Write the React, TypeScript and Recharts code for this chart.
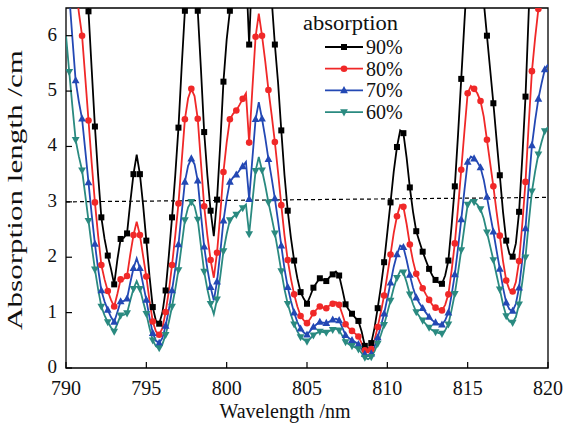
import React from 'react';
import { LineChart, Line, XAxis, YAxis, ReferenceLine, ReferenceArea, Legend } from 'recharts';

// wavelength grid (nm); markers are drawn on every second sample
const wavelength = [
  790.0, 790.2, 790.4, 790.6, 790.8, 791.0, 791.2, 791.4, 791.6, 791.8,
  792.0, 792.2, 792.4, 792.6, 792.8, 793.0, 793.2, 793.4, 793.6, 793.8,
  794.0, 794.2, 794.4, 794.6, 794.8, 795.0, 795.2, 795.4, 795.6, 795.8,
  796.0, 796.2, 796.4, 796.6, 796.8, 797.0, 797.2, 797.4, 797.6, 797.8,
  798.0, 798.2, 798.4, 798.6, 798.8, 799.0, 799.2, 799.4, 799.6, 799.8,
  800.0, 800.2, 800.4, 800.6, 800.8, 801.0, 801.2, 801.4, 801.6, 801.8,
  802.0, 802.2, 802.4, 802.6, 802.8, 803.0, 803.2, 803.4, 803.6, 803.8,
  804.0, 804.2, 804.4, 804.6, 804.8, 805.0, 805.2, 805.4, 805.6, 805.8,
  806.0, 806.2, 806.4, 806.6, 806.8, 807.0, 807.2, 807.4, 807.6, 807.8,
  808.0, 808.2, 808.4, 808.6, 808.8, 809.0, 809.2, 809.4, 809.6, 809.8,
  810.0, 810.2, 810.4, 810.6, 810.8, 811.0, 811.2, 811.4, 811.6, 811.8,
  812.0, 812.2, 812.4, 812.6, 812.8, 813.0, 813.2, 813.4, 813.6, 813.8,
  814.0, 814.2, 814.4, 814.6, 814.8, 815.0, 815.2, 815.4, 815.6, 815.8,
  816.0, 816.2, 816.4, 816.6, 816.8, 817.0, 817.2, 817.4, 817.6, 817.8,
  818.0, 818.2, 818.4, 818.6, 818.8, 819.0, 819.2, 819.4, 819.6, 819.8,
  820.0,
];

const abs90 = [
  14.7, 13.1, 11.56, 10.09, 9.36, 8.75, 7.64, 6.44, 5.39, 4.36,
  3.48, 2.72, 2.33, 2.03, 1.79, 1.51, 1.96, 2.33, 2.35, 2.43,
  2.99, 3.5, 3.85, 3.5, 2.94, 2.3, 1.65, 1.1, 0.85, 0.8,
  1.0, 1.4, 2.03, 2.72, 3.48, 4.34, 5.44, 6.45, 7.1, 7.35,
  7.15, 6.45, 5.39, 4.26, 3.48, 2.84, 2.38, 3.04, 4.04, 5.17,
  5.93, 6.45, 6.69, 6.79, 6.93, 7.08, 7.23, 5.84, 7.35, 8.72,
  9.33, 8.75, 8.09, 7.33, 6.66, 5.84, 5.15, 4.29, 3.48, 2.84,
  2.35, 1.94, 1.62, 1.37, 1.25, 1.16, 1.3, 1.45, 1.54, 1.62,
  1.59, 1.57, 1.64, 1.69, 1.74, 1.67, 1.42, 1.15, 1.05, 0.98,
  0.91, 0.85, 0.66, 0.4, 0.33, 0.45, 0.72, 1.08, 1.47, 1.91,
  2.45, 2.99, 3.55, 3.99, 4.29, 4.24, 3.8, 3.26, 2.82, 2.47,
  2.28, 2.1, 1.94, 1.79, 1.67, 1.59, 1.54, 1.52, 1.67, 1.94,
  2.57, 3.28, 4.21, 5.22, 6.25, 7.23, 7.42, 7.35, 7.23, 7.03,
  6.62, 6.0, 5.39, 4.78, 4.12, 3.48, 2.82, 2.3, 2.06, 2.01,
  2.25, 2.82, 3.8, 4.9, 6.42, 7.82, 8.7, 9.46, 10.0, 10.49,
  10.66,
];

const abs80 = [
  10.08, 8.99, 7.93, 6.92, 6.42, 6.0, 5.24, 4.47, 3.7, 2.99,
  2.39, 1.86, 1.6, 1.39, 1.23, 1.11, 1.34, 1.6, 1.61, 1.66,
  2.05, 2.4, 2.64, 2.4, 2.02, 1.65, 1.21, 0.84, 0.66, 0.6,
  0.72, 1.01, 1.39, 1.86, 2.39, 2.97, 3.73, 4.49, 4.87, 5.04,
  4.91, 4.5, 3.7, 2.92, 2.39, 1.95, 1.63, 2.08, 2.77, 3.54,
  4.07, 4.49, 4.59, 4.65, 4.75, 4.86, 4.96, 4.07, 5.04, 5.98,
  6.4, 6.0, 5.54, 5.02, 4.57, 4.08, 3.53, 2.94, 2.39, 1.95,
  1.61, 1.33, 1.11, 0.94, 0.86, 0.81, 0.89, 0.99, 1.06, 1.11,
  1.09, 1.08, 1.13, 1.16, 1.19, 1.14, 0.97, 0.79, 0.72, 0.67,
  0.62, 0.57, 0.45, 0.32, 0.28, 0.34, 0.5, 0.74, 1.01, 1.31,
  1.68, 2.05, 2.44, 2.74, 2.94, 2.91, 2.6, 2.23, 1.93, 1.7,
  1.56, 1.44, 1.33, 1.23, 1.14, 1.09, 1.06, 1.04, 1.14, 1.33,
  1.76, 2.25, 2.89, 3.58, 4.28, 4.96, 5.09, 5.04, 4.96, 4.82,
  4.54, 4.12, 3.7, 3.28, 2.82, 2.39, 1.93, 1.58, 1.41, 1.38,
  1.55, 1.93, 2.6, 3.36, 4.4, 5.36, 5.96, 6.48, 6.85, 7.19,
  7.31,
];

const abs70 = [
  7.56, 6.74, 5.95, 5.19, 4.81, 4.5, 3.93, 3.35, 2.77, 2.24,
  1.79, 1.4, 1.2, 1.05, 0.92, 0.83, 1.01, 1.2, 1.21, 1.25,
  1.54, 1.8, 1.98, 1.8, 1.51, 1.23, 0.91, 0.63, 0.49, 0.45,
  0.54, 0.76, 1.05, 1.4, 1.79, 2.23, 2.8, 3.36, 3.65, 3.78,
  3.68, 3.38, 2.77, 2.19, 1.79, 1.46, 1.22, 1.56, 2.08, 2.66,
  3.05, 3.36, 3.44, 3.49, 3.57, 3.64, 3.72, 3.05, 3.78, 4.49,
  4.8, 4.5, 4.16, 3.77, 3.43, 3.06, 2.65, 2.21, 1.79, 1.46,
  1.21, 1.0, 0.83, 0.71, 0.64, 0.6, 0.67, 0.74, 0.79, 0.83,
  0.82, 0.81, 0.84, 0.87, 0.89, 0.86, 0.73, 0.59, 0.54, 0.5,
  0.47, 0.43, 0.34, 0.25, 0.22, 0.26, 0.38, 0.55, 0.76, 0.98,
  1.26, 1.54, 1.83, 2.05, 2.21, 2.18, 1.95, 1.68, 1.45, 1.27,
  1.17, 1.08, 1.0, 0.92, 0.86, 0.82, 0.79, 0.78, 0.86, 1.0,
  1.32, 1.69, 2.17, 2.68, 3.21, 3.72, 3.82, 3.78, 3.72, 3.62,
  3.4, 3.09, 2.77, 2.46, 2.12, 1.79, 1.45, 1.18, 1.06, 1.03,
  1.16, 1.45, 1.95, 2.52, 3.3, 4.02, 4.47, 4.86, 5.14, 5.39,
  5.48,
];

const abs60 = [
  6.0, 5.35, 4.72, 4.12, 3.82, 3.57, 3.12, 2.66, 2.2, 1.78,
  1.42, 1.11, 0.95, 0.83, 0.73, 0.66, 0.8, 0.95, 0.96, 0.99,
  1.22, 1.43, 1.57, 1.43, 1.2, 0.98, 0.72, 0.5, 0.39, 0.36,
  0.43, 0.6, 0.83, 1.11, 1.42, 1.77, 2.22, 2.67, 2.9, 3.0,
  2.92, 2.68, 2.2, 1.74, 1.42, 1.16, 0.97, 1.24, 1.65, 2.11,
  2.42, 2.67, 2.73, 2.77, 2.83, 2.89, 2.95, 2.42, 3.0, 3.56,
  3.81, 3.57, 3.3, 2.99, 2.72, 2.43, 2.1, 1.75, 1.42, 1.16,
  0.96, 0.79, 0.66, 0.56, 0.51, 0.48, 0.53, 0.59, 0.63, 0.66,
  0.65, 0.64, 0.67, 0.69, 0.71, 0.68, 0.58, 0.47, 0.43, 0.4,
  0.37, 0.34, 0.27, 0.19, 0.16, 0.2, 0.3, 0.44, 0.6, 0.78,
  1.0, 1.22, 1.45, 1.63, 1.75, 1.73, 1.55, 1.33, 1.15, 1.01,
  0.93, 0.86, 0.79, 0.73, 0.68, 0.65, 0.63, 0.62, 0.68, 0.79,
  1.05, 1.34, 1.72, 2.13, 2.55, 2.95, 3.03, 3.0, 2.95, 2.87,
  2.7, 2.45, 2.2, 1.95, 1.68, 1.42, 1.15, 0.94, 0.84, 0.82,
  0.92, 1.15, 1.55, 2.0, 2.62, 3.19, 3.55, 3.86, 4.08, 4.28,
  4.35,
];

const xTicks = [790, 795, 800, 805, 810, 815, 820];
const yTicks = [0, 1, 2, 3, 4, 5, 6];

const data = wavelength.map((w, i) => ({
  w,
  a90: abs90[i],
  a80: abs80[i],
  a70: abs70[i],
  a60: abs60[i],
}));

const SERIF = 'Liberation Serif, Times New Roman, Times, DejaVu Serif, Noto Serif, serif';
const textStyle = { fontFamily: SERIF, fontSize: 20, fill: '#111' };

const series = [
  { key: 'a90', name: '90%', color: '#000000', shape: 'square' },
  { key: 'a80', name: '80%', color: '#f02828', shape: 'circle' },
  { key: 'a70', name: '70%', color: '#2348b4', shape: 'up' },
  { key: 'a60', name: '60%', color: '#2a8a80', shape: 'down' },
];

const Marker = ({ shape, cx, cy, color }: { shape: string; cx: number; cy: number; color: string }) => {
  if (shape === 'square') return <rect x={cx - 3} y={cy - 3} width={6} height={6} fill={color} />;
  if (shape === 'circle') return <circle cx={cx} cy={cy} r={3.3} fill={color} />;
  if (shape === 'up')
    return <polygon points={`${cx},${cy - 4.3} ${cx - 3.9},${cy + 2.8} ${cx + 3.9},${cy + 2.8}`} fill={color} />;
  return <polygon points={`${cx},${cy + 4.3} ${cx - 3.9},${cy - 2.8} ${cx + 3.9},${cy - 2.8}`} fill={color} />;
};

const makeDot = (shape: string, color: string) => (props: any) => {
  const { cx, cy, index } = props;
  if (index % 2 === 0 || cx == null || cy == null) return <g key={`d-${index}`} />;
  return (
    <g key={`d-${index}`}>
      <Marker shape={shape} cx={cx} cy={cy} color={color} />
    </g>
  );
};

const XTick = (props: any) => {
  const { x, y, payload } = props;
  return (
    <text x={x} y={y} dy={21} textAnchor="middle" fontFamily={SERIF} style={textStyle}>
      {payload.value}
    </text>
  );
};

const YTick = (props: any) => {
  const { x, y, payload } = props;
  return (
    <text x={x} y={y} dy={5} textAnchor="end" fontFamily={SERIF} style={{ ...textStyle, fontSize: 19 }}>
      {payload.value}
    </text>
  );
};

const renderLegend = () => (
  <svg width={140} height={120} style={{ overflow: 'visible' }}>
    <text x={3} y={22} fontFamily={SERIF} style={textStyle} textLength={95} lengthAdjust="spacingAndGlyphs">
      absorption
    </text>
    {series.map((s, i) => {
      const y = 39 + i * 21.7;
      return (
        <g key={s.key}>
          <line x1={25} x2={63} y1={y} y2={y} stroke={s.color} strokeWidth={1.8} />
          <Marker shape={s.shape} cx={44} cy={y} color={s.color} />
          <text x={66} y={y + 7} fontFamily={SERIF} style={textStyle}>{s.name}</text>
        </g>
      );
    })}
  </svg>
);

export default function App() {
  return (
    <div
      style={{ position: 'absolute', left: 0, top: 0, width: 566, height: 424, background: '#fff', fontFamily: SERIF }}
    >
      <LineChart width={566} height={424} data={data} margin={{ top: 8, right: 18, bottom: 0, left: 0 }}>
        <XAxis
          dataKey="w"
          type="number"
          domain={[790, 820]}
          ticks={xTicks}
          interval={0}
          allowDataOverflow
          axisLine={false}
          tickSize={-6}
          tickMargin={12}
          tickLine={{ stroke: '#000', strokeWidth: 1.2 }}
          tick={<XTick />}
          height={56}
          label={{
            content: () => (
              <text x={285} y={418} textAnchor="middle" fontFamily={SERIF} style={textStyle}>
                Wavelength /nm
              </text>
            ),
          }}
        />
        <YAxis
          type="number"
          domain={[0, 6.5]}
          ticks={yTicks}
          interval={0}
          allowDataOverflow
          axisLine={false}
          width={66}
          tickSize={-6}
          tickMargin={15}
          tickLine={{ stroke: '#000', strokeWidth: 1.2 }}
          tick={<YTick />}
          label={{
            content: () => (
              <text
                transform="translate(22,190) rotate(-90)"
                textAnchor="middle"
                fontFamily={SERIF}
                style={{ ...textStyle, fontSize: 21 }}
                textLength={280}
                lengthAdjust="spacingAndGlyphs"
              >
                Absorption length /cm
              </text>
            ),
          }}
        />
        <ReferenceLine
          segment={[{ x: 790, y: 3.0 }, { x: 820, y: 3.08 }]}
          stroke="#000"
          strokeWidth={1.2}
          strokeDasharray="4 3"
        />
        {series.map((s) => (
          <Line
            key={s.key}
            type="linear"
            dataKey={s.key}
            name={s.name}
            stroke={s.color}
            strokeWidth={1.8}
            dot={makeDot(s.shape, s.color)}
            activeDot={false}
            isAnimationActive={false}
          />
        ))}
        <ReferenceArea x1={790} x2={820} y1={0} y2={6.5} fill="none" stroke="#000" strokeWidth={1.3} />
        <Legend
          layout="vertical"
          align="center"
          verticalAlign="middle"
          content={renderLegend}
          wrapperStyle={{ position: 'absolute', left: 300, top: 8, width: 140, height: 120 }}
        />
      </LineChart>
    </div>
  );
}
